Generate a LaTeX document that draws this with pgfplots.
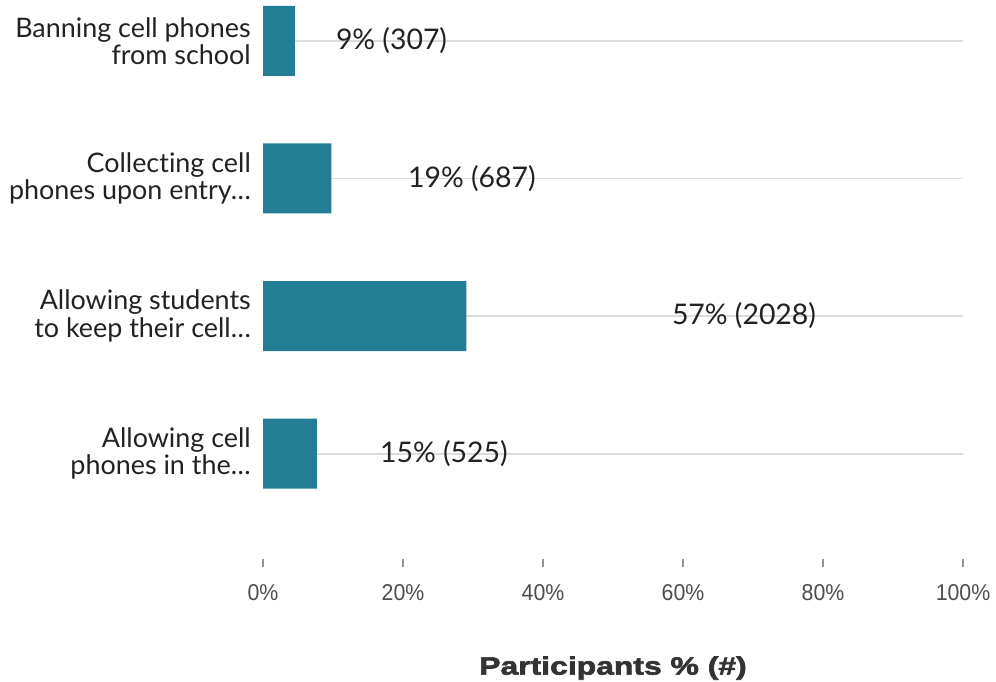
\documentclass[border=0pt]{standalone}
\usepackage{pgfplots}
\pgfplotsset{compat=1.18}
\usepackage{fontspec}
\setmainfont{Lato}[Ligatures=NoCommon]
\newfontfamily\tickfont[FakeStretch=0.93]{Liberation Sans}
\newfontfamily\titlefont[FakeStretch=1.28,FakeBold=2.5]{Liberation Sans Bold}
\definecolor{barcol}{HTML}{237E95}
\definecolor{gridcol}{HTML}{DCDCDC}
\definecolor{labcol}{HTML}{222222}
\definecolor{tickcol}{HTML}{4D4D4D}
\definecolor{titlecol}{HTML}{333333}
\newcommand{\dd}{.\kern0.5pt.\kern0.5pt.}
\begin{document}
\begin{tikzpicture}[x=1bp,y=1bp]
\useasboundingbox (0,0) rectangle (996,682);
\begin{axis}[
  at={(263bp,123bp)}, anchor=south west,
  scale only axis, width=700bp, height=559bp,
  xmin=0, xmax=100, ymin=-0.2975, ymax=3.766,
  y dir=reverse,
  xbar, bar width=70bp,
  axis line style={draw=none},
  xtick={0,20,40,60,80,100},
  xticklabels={0\%,20\%,40\%,60\%,80\%,100\%},
  xtick pos=bottom, tick align=outside,
  major tick length=8bp,
  xtick style={draw=gray!85, line width=1.2bp},
  xticklabel style={font=\tickfont\fontsize{23}{27}\selectfont, text=tickcol, yshift=-14bp},
  ytick={0,1,2,3},
  yticklabels={{Banning cell phones\\from school},{Collecting cell\\phones upon entry\dd},{Allowing students\\to keep their cell\dd},{Allowing cell\\phones in the\dd}},
  yticklabel style={align=right, font=\fontsize{27}{27.5}\selectfont, text=labcol, inner sep=0pt, xshift=-4bp},
  ytick style={draw=none},
  ymajorgrids, major grid style={draw=gridcol, line width=1.8bp},
  xlabel={Participants \% (\#)},
  xlabel style={font=\titlefont\fontsize{25}{30}\selectfont, text=titlecol, at={(axis description cs:0.5,0)}, yshift=-94bp},
  clip=false,
]
\addplot[fill=barcol, draw=none] coordinates {(4.57,0) (9.76,1) (29.05,2) (7.71,3)};
\node[anchor=west, inner sep=0pt, font=\fontsize{28.5}{30}\selectfont, text=labcol] at (axis cs:10.4,0) {9\% (307)};
\node[anchor=west, inner sep=0pt, font=\fontsize{28.5}{30}\selectfont, text=labcol] at (axis cs:20.7,1) {19\% (687)};
\node[anchor=west, inner sep=0pt, font=\fontsize{28.5}{30}\selectfont, text=labcol] at (axis cs:58.4,2) {57\% (2028)};
\node[anchor=west, inner sep=0pt, font=\fontsize{28.5}{30}\selectfont, text=labcol] at (axis cs:16.7,3) {15\% (525)};
\end{axis}
\end{tikzpicture}
\end{document}
